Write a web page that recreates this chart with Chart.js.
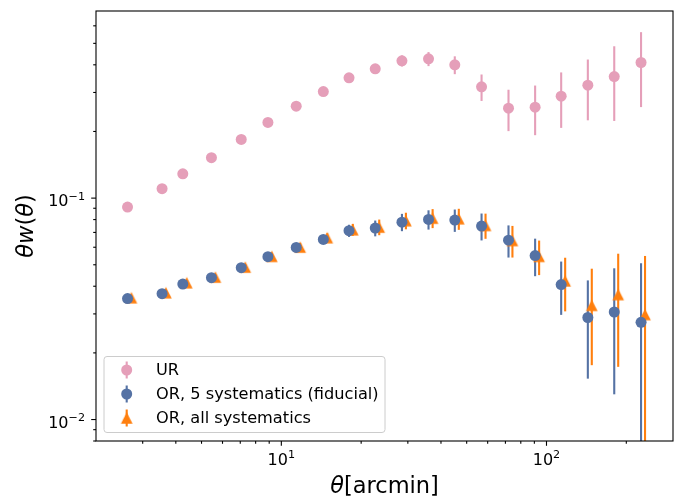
<!DOCTYPE html>
<html><head><meta charset="utf-8">
<script src="https://cdn.jsdelivr.net/npm/chart.js@4.4.0/dist/chart.umd.min.js"></script>
<style>html,body{margin:0;padding:0;background:#fff;}canvas{display:block;}</style>
</head><body>
<canvas id="c" width="681" height="498"></canvas>
<script>
// ---- data ----
const thetaUR    = [2.63, 3.55, 4.25, 5.45, 7.06, 8.90, 11.38, 14.40, 18.0, 22.6, 28.5, 35.9, 45.1, 56.9, 71.9, 90.6, 113.6, 143.2, 180.1, 227.3];
const wUR        = [0.0911, 0.1103, 0.1288, 0.1522, 0.1840, 0.2196, 0.2602, 0.3030, 0.3494, 0.3836, 0.4169, 0.4256, 0.3999, 0.3182, 0.2547, 0.2574, 0.2886, 0.3236, 0.3541, 0.4097];
const errUR      = [0.002, 0.003, 0.003, 0.004, 0.005, 0.006, 0.008, 0.009, 0.011, 0.015, 0.024, 0.031, 0.037, 0.0435, 0.054, 0.065, 0.081, 0.099, 0.131, 0.152];

const thetaOR5   = [2.63, 3.55, 4.25, 5.45, 7.06, 8.90, 11.38, 14.40, 18.0, 22.6, 28.5, 35.9, 45.1, 56.9, 71.9, 90.6, 113.6, 143.2, 180.1, 227.3];
const wOR5       = [0.0352, 0.0370, 0.0409, 0.0437, 0.0485, 0.0544, 0.0599, 0.0651, 0.0713, 0.0732, 0.0779, 0.0801, 0.0796, 0.0748, 0.0646, 0.0550, 0.0407, 0.0289, 0.0306, 0.0275];
const errOR5     = [0.0008, 0.0009, 0.0011, 0.0013, 0.0016, 0.0020, 0.0025, 0.0030, 0.0045, 0.0060, 0.0070, 0.0080, 0.0092, 0.0104, 0.0107, 0.0106, 0.0110, 0.0136, 0.0176, 0.0233];

const thetaORall = [2.72, 3.67, 4.40, 5.64, 7.31, 9.21, 11.78, 14.90, 18.6, 23.4, 29.5, 37.2, 46.7, 58.9, 74.4, 93.8, 117.6, 148.2, 186.4, 235.3];
const wORall     = [0.0355, 0.0374, 0.0415, 0.0440, 0.0488, 0.0546, 0.0601, 0.0663, 0.0720, 0.0740, 0.0791, 0.0812, 0.0807, 0.0753, 0.0644, 0.0546, 0.0423, 0.0328, 0.0367, 0.0298];
const errORall   = [0.0008, 0.0009, 0.0011, 0.0013, 0.0016, 0.0020, 0.0025, 0.0030, 0.0045, 0.0060, 0.0068, 0.0080, 0.0088, 0.0098, 0.0105, 0.0097, 0.0115, 0.0152, 0.0194, 0.0250];

const seriesNames = ['UR', 'OR, 5 systematics (fiducial)', 'OR, all systematics'];
const xMajorTicks = [10, 100];
const xMajorExp   = ['1', '2'];
const yMajorTicks = [0.01, 0.1];
const yMajorExp   = ['\u22122', '\u22121'];
const xRange = [2, 300];
const yRange = [0.008, 0.7];

// ---- styles ----
const PINK = '#e59fb9', BLUE = '#5572a4', ORANGE = '#ff7f0e';
const FONT = '"DejaVu Sans", sans-serif';
const MR = 5.5;

function makeTriangle(color, s) {
  const c = document.createElement('canvas');
  c.width = 14; c.height = 14;
  const g = c.getContext('2d');
  const h = s / 2;
  g.fillStyle = color;
  g.beginPath();
  g.moveTo(7, 7 - h); g.lineTo(7 - h, 7 + h); g.lineTo(7 + h, 7 + h); g.closePath();
  g.fill();
  return c;
}
const triImg = makeTriangle(ORANGE, 11.6);

function pts(xs, ys, es) { return xs.map((t, i) => ({x: t, y: ys[i], e: es[i]})); }

const errPlugin = {
  id: 'errbars',
  beforeDatasetsDraw(chart) {
    const {ctx, chartArea: a, scales: {x, y}} = chart;
    ctx.save();
    ctx.beginPath(); ctx.rect(a.left, a.top, a.right - a.left, a.bottom - a.top); ctx.clip();
    chart.data.datasets.forEach(ds => {
      ctx.strokeStyle = ds.errColor; ctx.lineWidth = 2.1;
      ds.data.forEach(p => {
        const px = x.getPixelForValue(p.x);
        const lo = Math.max(p.y - p.e, 1e-5);
        ctx.beginPath();
        ctx.moveTo(px, y.getPixelForValue(p.y + p.e));
        ctx.lineTo(px, y.getPixelForValue(lo));
        ctx.stroke();
      });
    });
    ctx.restore();
  }
};

function mantissaIsInt(v) {
  const m = v / Math.pow(10, Math.floor(Math.log10(v) + 1e-9));
  return Math.abs(m - Math.round(m)) < 1e-6;
}

function drawRuns(ctx, runs, size) {
  let w = 0;
  runs.forEach(r => { ctx.font = (r.it ? 'italic ' : '') + size + 'px ' + FONT; r.w = ctx.measureText(r.t).width; w += r.w; });
  return w;
}

const decoPlugin = {
  id: 'deco',
  afterDraw(chart) {
    const {ctx, chartArea: a, scales: {x, y}} = chart;
    ctx.save();
    // frame
    ctx.strokeStyle = '#000'; ctx.lineWidth = 1.1;
    ctx.strokeRect(a.left, a.top, a.right - a.left, a.bottom - a.top);
    // ticks
    ctx.lineWidth = 1.1;
    x.ticks.forEach(t => {
      if (!mantissaIsInt(t.value) || t.value <= xRange[0] || t.value >= xRange[1]) return;
      const major = xMajorTicks.some(v => Math.abs(v - t.value) < 1e-9);
      const px = x.getPixelForValue(t.value);
      ctx.beginPath(); ctx.moveTo(px, a.bottom); ctx.lineTo(px, a.bottom + (major ? 4.8 : 2.8)); ctx.stroke();
    });
    y.ticks.forEach(t => {
      if (!mantissaIsInt(t.value) || t.value <= yRange[0] * 0.999 || t.value >= yRange[1]) return;
      const major = yMajorTicks.some(v => Math.abs(v - t.value) < 1e-12);
      const py = y.getPixelForValue(t.value);
      ctx.beginPath(); ctx.moveTo(a.left, py); ctx.lineTo(a.left - (major ? 4.8 : 2.8), py); ctx.stroke();
    });
    // tick labels
    ctx.fillStyle = '#000'; ctx.textBaseline = 'alphabetic'; ctx.textAlign = 'left';
    const fs = 16, es = 11.2;
    xMajorTicks.forEach((v, i) => {
      const px = x.getPixelForValue(v);
      ctx.font = fs + 'px ' + FONT; const wb = ctx.measureText('10').width;
      ctx.font = es + 'px ' + FONT; const we = ctx.measureText(xMajorExp[i]).width;
      const x0 = px - (wb + we) / 2, base = a.bottom + 23.5;
      ctx.font = fs + 'px ' + FONT; ctx.fillText('10', x0, base);
      ctx.font = es + 'px ' + FONT; ctx.fillText(xMajorExp[i], x0 + wb, base - 6.5);
    });
    yMajorTicks.forEach((v, i) => {
      const py = y.getPixelForValue(v);
      ctx.font = fs + 'px ' + FONT; const wb = ctx.measureText('10').width;
      ctx.font = es + 'px ' + FONT; const we = ctx.measureText(yMajorExp[i]).width;
      const right = a.left - 11, base = py + 8;
      const x0 = right - wb - we;
      ctx.font = fs + 'px ' + FONT; ctx.fillText('10', x0, base);
      ctx.font = es + 'px ' + FONT; ctx.fillText(yMajorExp[i], x0 + wb, base - 6.5);
    });
    // axis titles
    const ls = 22.5;
    const xr = [{t: '\u03b8', it: true}, {t: '[arcmin]', it: false}];
    let tw = drawRuns(ctx, xr, ls);
    let cx = (a.left + a.right) / 2 - tw / 2;
    xr.forEach(r => { ctx.font = (r.it ? 'italic ' : '') + ls + 'px ' + FONT; ctx.fillText(r.t, cx, 492.5); cx += r.w; });
    const yr = [{t: '\u03b8', it: true}, {t: 'w', it: true}, {t: '(', it: false}, {t: '\u03b8', it: true}, {t: ')', it: false}];
    tw = drawRuns(ctx, yr, ls);
    ctx.save();
    ctx.translate(33, (a.top + a.bottom) / 2);
    ctx.rotate(-Math.PI / 2);
    cx = -tw / 2;
    yr.forEach(r => { ctx.font = (r.it ? 'italic ' : '') + ls + 'px ' + FONT; ctx.fillText(r.t, cx, 0); cx += r.w; });
    ctx.restore();
    // legend
    const L = 104, T = 356.5, R = 385, B = 432.5, rad = 3;
    ctx.beginPath();
    ctx.moveTo(L + rad, T); ctx.lineTo(R - rad, T); ctx.arcTo(R, T, R, T + rad, rad);
    ctx.lineTo(R, B - rad); ctx.arcTo(R, B, R - rad, B, rad);
    ctx.lineTo(L + rad, B); ctx.arcTo(L, B, L, B - rad, rad);
    ctx.lineTo(L, T + rad); ctx.arcTo(L, T, L + rad, T, rad); ctx.closePath();
    ctx.fillStyle = 'rgba(255,255,255,0.8)'; ctx.fill();
    ctx.strokeStyle = '#cccccc'; ctx.lineWidth = 1; ctx.stroke();
    const rows = [370, 394, 418], mx = 126.7;
    const cols = [PINK, BLUE, ORANGE];
    rows.forEach((ry, i) => {
      ctx.strokeStyle = cols[i]; ctx.lineWidth = 2.1;
      ctx.beginPath(); ctx.moveTo(mx, ry - 8.5); ctx.lineTo(mx, ry + 8.5); ctx.stroke();
      if (i < 2) {
        ctx.fillStyle = cols[i]; ctx.beginPath(); ctx.arc(mx, ry, MR, 0, Math.PI * 2); ctx.fill();
      } else {
        ctx.drawImage(triImg, mx - 7, ry - 7);
      }
      ctx.fillStyle = '#000'; ctx.font = '16.2px ' + FONT; ctx.textBaseline = 'middle';
      ctx.fillText(seriesNames[i], 156, ry + 0.5);
      ctx.textBaseline = 'alphabetic';
    });
    ctx.restore();
  }
};

new Chart(document.getElementById('c'), {
  type: 'scatter',
  data: {
    datasets: [
      {label: seriesNames[0], data: pts(thetaUR, wUR, errUR), pointStyle: 'circle', pointRadius: MR,
       pointBackgroundColor: PINK, pointBorderWidth: 0, errColor: PINK},
      {label: seriesNames[1], data: pts(thetaOR5, wOR5, errOR5), pointStyle: 'circle', pointRadius: MR,
       pointBackgroundColor: BLUE, pointBorderWidth: 0, errColor: BLUE},
      {label: seriesNames[2], data: pts(thetaORall, wORall, errORall), pointStyle: triImg, pointRadius: MR,
       pointBackgroundColor: ORANGE, pointBorderWidth: 0, errColor: ORANGE}
    ]
  },
  options: {
    responsive: false, devicePixelRatio: 1, animation: false, events: [],
    layout: {padding: {top: 11, right: 8, left: 0, bottom: 0}},
    plugins: {legend: {display: false}, tooltip: {enabled: false}},
    scales: {
      x: {type: 'logarithmic', position: 'bottom', min: xRange[0], max: xRange[1],
          grid: {display: false, drawTicks: false}, border: {display: false}, ticks: {display: false},
          afterFit(s) { s.height = 57; }},
      y: {type: 'logarithmic', position: 'left', min: yRange[0], max: yRange[1],
          grid: {display: false, drawTicks: false}, border: {display: false}, ticks: {display: false},
          afterFit(s) { s.width = 96; }}
    }
  },
  plugins: [errPlugin, decoPlugin]
});
</script>
</body></html>
